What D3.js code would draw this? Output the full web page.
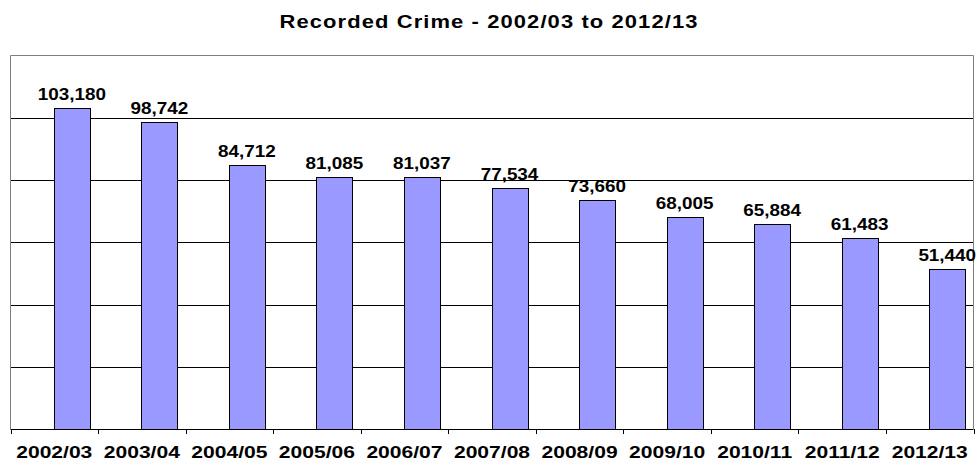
<!DOCTYPE html>
<html>
<head>
<meta charset="utf-8">
<script src="https://cdn.jsdelivr.net/npm/d3@7"></script>
<style>
  body { margin: 0; background: #fff; }
  text { font-family: "Liberation Sans", Arial, sans-serif; font-weight: bold; fill: #000; }
</style>
</head>
<body>
<div id="chart"></div>
<script>
// recorded crime per year
const years = ["2002/03", "2003/04", "2004/05", "2005/06", "2006/07", "2007/08",
               "2008/09", "2009/10", "2010/11", "2011/12", "2012/13"];
const crimes = [103180, 98742, 84712, 81085, 81037, 77534, 73660, 68005, 65884, 61483, 51440];
const yTicks = [0, 20000, 40000, 60000, 80000, 100000, 120000];

const width = 978, height = 462;
const marginTop = 55.5, marginRight = 4.5, marginBottom = 33, marginLeft = 10.5;
const stretch = 1.22; // the source text is a bit wide

const data = years.map((y, i) => ({year: y, value: crimes[i]}));

const x = d3.scaleBand()
    .domain(years)
    .range([marginLeft, width - marginRight]);

const y = d3.scaleLinear()
    .domain([0, 120000])
    .range([height - marginBottom, marginTop]);

const svg = d3.select("#chart").append("svg")
    .attr("width", width)
    .attr("height", height);

// Title
svg.append("text")
    .attr("transform", `translate(${width / 2},28) scale(${stretch},1)`)
    .attr("text-anchor", "middle")
    .style("font-size", "18px")
    .style("letter-spacing", "0.9px")
    .text("Recorded Crime - 2002/03 to 2012/13");

// gridlines
svg.append("g")
    .selectAll("line")
    .data(yTicks.slice(1, -1))
    .join("line")
    .attr("x1", marginLeft)
    .attr("x2", width - marginRight)
    .attr("y1", d => Math.round(y(d)) + 0.5)
    .attr("y2", d => Math.round(y(d)) + 0.5)
    .attr("stroke", "#000");

// plot border (left, top, right)
svg.append("path")
    .attr("d", `M${marginLeft},${height - marginBottom}V${marginTop}H${width - marginRight}V${height - marginBottom}`)
    .attr("fill", "none")
    .attr("stroke", "#808080");

// bars sit in the right half of each category (empty first series)
const barW = 36;
const barOffset = x.bandwidth() / 2 - 0.5;

svg.append("g")
    .selectAll("rect")
    .data(data)
    .join("rect")
    .attr("x", d => Math.round(x(d.year) + barOffset) + 0.5)
    .attr("y", d => Math.round(y(d.value)) + 0.5)
    .attr("width", barW)
    .attr("height", d => Math.round(y(0)) - Math.round(y(d.value)))
    .attr("fill", "#9999ff")
    .attr("stroke", "#000");

// value labels
const fmt = d3.format(",");
svg.append("g")
    .selectAll("text")
    .data(data)
    .join("text")
    .attr("transform", d => `translate(${x(d.year) + barOffset + barW / 2},${y(d.value) - 8}) scale(1.18,1)`)
    .attr("text-anchor", "middle")
    .style("font-size", "16px")
    .text(d => fmt(d.value));

// x axis
svg.append("line")
    .attr("x1", marginLeft)
    .attr("x2", width - marginRight)
    .attr("y1", Math.round(y(0)) + 0.5)
    .attr("y2", Math.round(y(0)) + 0.5)
    .attr("stroke", "#000");

svg.append("g")
    .selectAll("line")
    .data(years.concat(["end"]))
    .join("line")
    .attr("x1", (d, i) => Math.round(marginLeft + i * x.step()) + 0.5)
    .attr("x2", (d, i) => Math.round(marginLeft + i * x.step()) + 0.5)
    .attr("y1", Math.round(y(0)))
    .attr("y2", Math.round(y(0)) + 5)
    .attr("stroke", "#000");

svg.append("g")
    .selectAll("text")
    .data(years)
    .join("text")
    .attr("transform", d => `translate(${x(d) + x.bandwidth() / 2},458) scale(1.24,1)`)
    .attr("text-anchor", "middle")
    .style("font-size", "17px")
    .text(d => d);
</script>
</body>
</html>
